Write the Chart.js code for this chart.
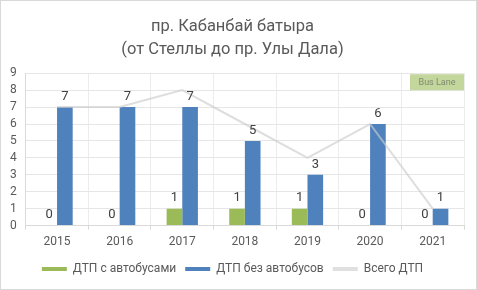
<!DOCTYPE html>
<html>
<head>
<meta charset="utf-8">
<script src="https://cdn.jsdelivr.net/npm/chart.js@4"></script>
<style>
    html, body { margin: 0; padding: 0; background: #fff; }
    #wrap { width: 475px; height: 288px; border: 1px solid #d9d9d9; }
</style>
</head>
<body>
<div id="wrap"><canvas id="chart" width="475" height="288"></canvas></div>
<script>
const years = ['2015', '2016', '2017', '2018', '2019', '2020', '2021'];
const withBuses = [0, 0, 1, 1, 1, 0, 0];
const withoutBuses = [7, 7, 7, 5, 3, 6, 1];
const totalAccidents = [7, 7, 8, 6, 4, 6, 1];
const titleLines = ['пр. Кабанбай батыра', '(от Стеллы до пр. Улы Дала)'];
const noteText = 'Bus Lane';

// value labels above bars
const barLabels = {
    id: 'barLabels',
    afterDatasetsDraw(chart) {
        const ctx = chart.ctx;
        ctx.save();
        ctx.font = '13px Roboto';
        ctx.fillStyle = '#404040';
        ctx.textAlign = 'center';
        ctx.textBaseline = 'bottom';
        chart.data.datasets.forEach((ds, i) => {
            if (ds.type === 'line') return;
            chart.getDatasetMeta(i).data.forEach((bar, j) => {
                ctx.fillText(String(ds.data[j]), bar.x, bar.y - 4);
            });
        });
        ctx.restore();
    }
};

// small "Bus Lane" box in the top right of the plot
const noteBox = {
    id: 'noteBox',
    afterDraw(chart) {
        const { ctx, chartArea } = chart;
        const w = 54, h = 16;
        const x = chartArea.right - w, y = chartArea.top + 1;
        ctx.save();
        ctx.fillStyle = '#c3d69b';
        ctx.fillRect(x, y, w, h);
        ctx.font = '9px Roboto';
        ctx.fillStyle = '#808a70';
        ctx.textAlign = 'center';
        ctx.textBaseline = 'middle';
        ctx.fillText(noteText, x + w / 2, y + h / 2 + 1);
        ctx.restore();
    }
};

new Chart(document.getElementById('chart'), {
    type: 'bar',
    data: {
        labels: years,
        datasets: [
            {
                label: 'ДТП с автобусами',
                data: withBuses,
                backgroundColor: '#9bbb59',
                categoryPercentage: 0.5,
                barPercentage: 1,
                order: 1
            },
            {
                label: 'ДТП без автобусов',
                data: withoutBuses,
                backgroundColor: '#4f81bd',
                categoryPercentage: 0.5,
                barPercentage: 1,
                order: 1
            },
            {
                type: 'line',
                label: 'Всего ДТП',
                data: totalAccidents,
                borderColor: 'rgba(205,205,205,0.65)',
                backgroundColor: 'rgba(205,205,205,0.65)',
                borderWidth: 2,
                pointRadius: 0,
                tension: 0,
                fill: false,
                order: 0
            }
        ]
    },
    options: {
        responsive: false,
        animation: false,
        layout: { padding: { left: 0, right: 12, top: 4, bottom: 4 } },
        plugins: {
            title: {
                display: true,
                text: titleLines,
                color: '#595959',
                font: { family: 'Roboto', size: 16.5, weight: 'normal', lineHeight: 1.4 },
                padding: { top: 10, bottom: 12 }
            },
            legend: {
                position: 'bottom',
                labels: {
                    color: '#595959',
                    font: { family: 'Roboto', size: 12 },
                    boxWidth: 25,
                    boxHeight: 4,
                    padding: 9,
                    generateLabels(chart) {
                        return chart.data.datasets.map((ds, i) => ({
                            text: ds.label,
                            fillStyle: ds.type === 'line' ? '#e0e0e0' : ds.backgroundColor,
                            strokeStyle: 'transparent',
                            lineWidth: 0,
                            fontColor: '#595959',
                            datasetIndex: i
                        }));
                    }
                }
            },
            tooltip: { enabled: false }
        },
        scales: {
            x: {
                grid: { color: '#ececec', offset: true, tickLength: 4, tickColor: '#d9d9d9' },
                border: { color: '#d9d9d9' },
                ticks: { color: '#595959', font: { family: 'Roboto', size: 12 }, padding: 5 }
            },
            y: {
                min: 0,
                max: 9,
                grid: { color: '#e6e6e6', tickLength: 0 },
                border: { color: '#d9d9d9' },
                ticks: { stepSize: 1, autoSkip: false, color: '#595959', font: { family: 'Roboto', size: 12 }, padding: 9 }
            }
        }
    },
    plugins: [barLabels, noteBox]
});
</script>
</body>
</html>
